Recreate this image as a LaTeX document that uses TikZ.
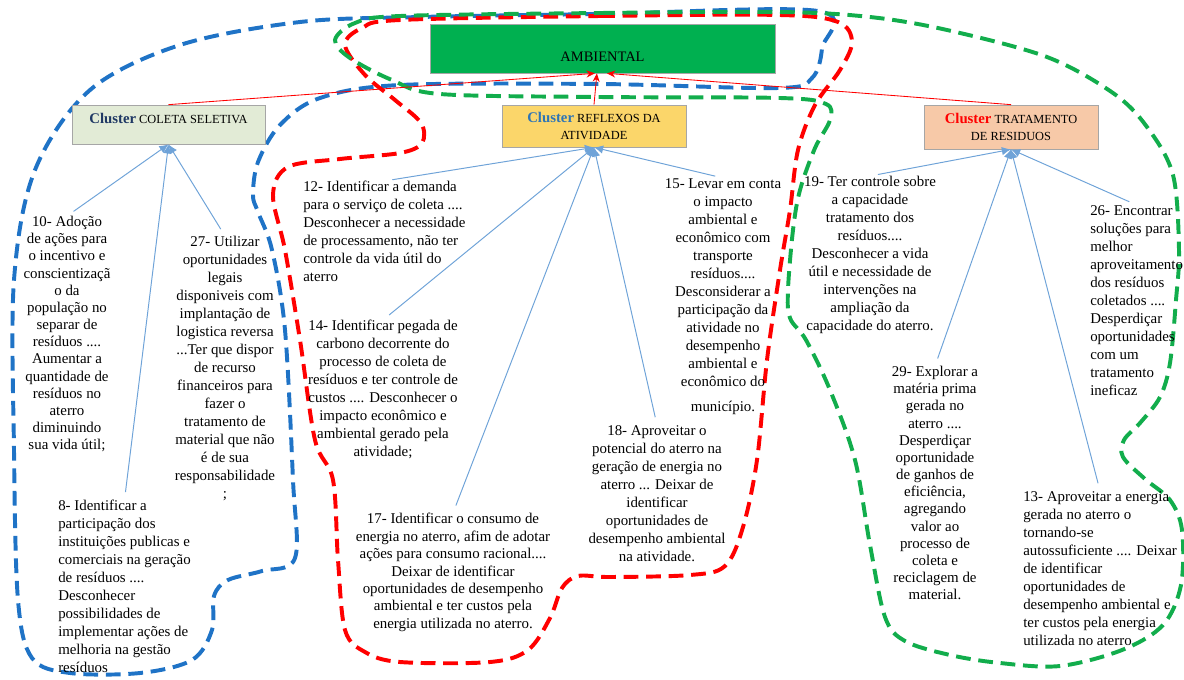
\documentclass[tikz,border=0pt]{standalone}
\usepackage{fontspec}
\setmainfont{Liberation Serif}
\usetikzlibrary{arrows.meta}

\definecolor{ambgreen}{HTML}{00B050}
\definecolor{hullblue}{HTML}{1F73C6}
\definecolor{hullred}{HTML}{FF0000}
\definecolor{hullgreen}{HTML}{12AD4C}
\definecolor{lineblue}{HTML}{6FA3D8}
\definecolor{boxgray}{HTML}{A6A6A6}
\definecolor{coletafill}{HTML}{E2EBD6}
\definecolor{reflexfill}{HTML}{FBD66A}
\definecolor{tratfill}{HTML}{F7C9A8}
\definecolor{navyword}{HTML}{1F3864}
\definecolor{blueword}{HTML}{2E75B6}

\newcommand{\clusterword}[1]{{\fontsize{10.5}{12}\selectfont\bfseries\color{#1}Cluster}}

\tikzset{
  hull/.style={line width=2.8pt, dash pattern=on 10.5pt off 5.5pt},
  clusterbox/.style={draw=boxgray, line width=0.5pt, align=center, inner sep=1pt,
    font=\fontsize{8.8}{12}\selectfont},
  item/.style={inner sep=0pt, font=\fontsize{10.6}{12.8}\selectfont},
  itemc/.style={item, align=center, anchor=north},
  iteml/.style={item, align=left, anchor=north west},
  tight/.style={font=\fontsize{10.6}{12.2}\selectfont},
  feed/.style={draw=lineblue, line width=0.7pt, shorten <=0.2cm,
    -{Latex[length=6.5pt,width=6pt]}},
  toamb/.style={draw=hullred, line width=0.6pt, -{Stealth[length=6pt,width=5pt]}},
}

\begin{document}
\begin{tikzpicture}[x=0.025cm,y=-0.025cm]
\useasboundingbox (0,0) rectangle (1184,679);

% grupos
\draw[hull, hullblue] plot[smooth cycle, tension=0.55] coordinates {
  (818,11) (600,14) (420,17) (300,22) (180,45) (90,90) (35,170) (14,280)
  (14,450) (18,600) (32,658) (70,673) (140,673) (192,660) (212,630)
  (214,596) (228,580) (262,571) (295,558) (293,480) (285,330) (272,250)
  (258,212) (253,195) (258,162) (280,125) (320,98) (400,85) (600,84)
  (778,88) (812,78) (822,48)};
\draw[hull, hullred] plot[smooth cycle, tension=0.55] coordinates {
  (400,20) (600,16) (780,15) (838,22) (852,42) (840,70) (815,105)
  (798,150) (790,210) (780,270) (767,360) (757,460) (743,527) (725,566)
  (690,575) (610,577) (578,576) (562,588) (550,618) (528,650) (490,662)
  (400,662) (365,652) (345,630) (338,560) (333,480) (315,440) (300,340)
  (285,250) (273,195) (288,167) (340,159) (400,153) (422,143) (421,123)
  (395,100) (365,75) (345,45) (362,28)};
\draw[hull, hullgreen] plot[smooth cycle, tension=0.55] coordinates {
  (400,16) (600,13) (780,12) (870,17) (947,30) (1047,57) (1113,93)
  (1147,127) (1173,175) (1179,250) (1176,300) (1170,363) (1160,397)
  (1140,423) (1124,440) (1123,457) (1145,479) (1170,500) (1182,530)
  (1181,585) (1163,625) (1122,650) (1060,666) (1000,663) (950,655)
  (905,641) (885,617) (870,545) (855,460) (830,390) (806,340) (790,318)
  (788,290) (793,230) (800,190) (815,148) (830,120) (826,104) (780,98)
  (600,97) (440,94) (392,80) (350,58) (335,40) (355,23)};

% caixas
\node[draw=boxgray, line width=0.5pt, fill=ambgreen, minimum width=8.625cm,
  minimum height=1.225cm, inner sep=0pt, text height=18.4pt, text depth=0pt,
  font=\fontsize{10.3}{12}\selectfont] (ambiental) at (602.5,48.5) {AMBIENTAL};
\node[clusterbox, fill=coletafill, minimum width=4.825cm, minimum height=0.975cm,
  text height=7pt, text depth=8.6pt] (coleta) at (168.5,124.5)
  {\clusterword{navyword} COLETA SELETIVA};
\node[clusterbox, fill=reflexfill, minimum width=4.6cm, minimum height=1.05cm]
  (reflexos) at (594,126) {\clusterword{blueword} REFLEXOS DA\\ATIVIDADE};
\node[clusterbox, fill=tratfill, minimum width=4.35cm, minimum height=1.1cm]
  (tratamento) at (1011,127) {\clusterword{hullred} TRATAMENTO\\DE RESIDUOS};

% itens
\node[itemc, tight] (n10) at (67,216) {10- Adoção\\de ações para\\o incentivo e\\conscientizaçã\\o da\\população no\\separar de\\resíduos ....\\Aumentar a\\quantidade de\\resíduos no\\aterro\\diminuindo\\sua vida útil;};
\node[itemc] (n27) at (225,236) {27- Utilizar\\oportunidades\\legais\\disponiveis com\\implantação de\\logistica reversa\\...Ter que dispor\\de recurso\\financeiros para\\fazer o\\tratamento de\\material que não\\é de sua\\responsabilidade\\;};
\node[iteml] (n8) at (58,500) {8- Identificar a\\participação dos\\instituições publicas e\\comerciais na geração\\de resíduos ....\\Desconhecer\\possibilidades de\\implementar ações de\\melhoria na gestão\\resíduos};
\node[iteml] (n12) at (303,181) {12- Identificar a demanda\\para o serviço de coleta ....\\Desconhecer a necessidade\\de processamento, não ter\\controle da vida útil do\\aterro};
\node[itemc] (n14) at (383,320) {14- Identificar pegada de\\carbono decorrente do\\processo de coleta de\\resíduos e ter controle de\\custos .... Desconhecer o\\impacto econômico e\\ambiental gerado pela\\atividade;};
\node[itemc, font=\fontsize{10.6}{12.4}\selectfont] (n17) at (453,513) {17- Identificar o consumo de\\energia no aterro, afim de adotar\\ações para consumo racional....\\Deixar de identificar\\oportunidades de desempenho\\ambiental e ter custos pela\\energia utilizada no aterro.};
\node[itemc] (n15) at (723,178) {15- Levar em conta\\o impacto\\ambiental e\\econômico com\\transporte\\resíduos....\\Desconsiderar a\\participação da\\atividade no\\desempenho\\ambiental e\\econômico do\\[5pt]município.};
\node[itemc] (n18) at (657,425) {18- Aproveitar o\\potencial do aterro na\\geração de energia no\\aterro ... Deixar de\\identificar\\oportunidades de\\desempenho ambiental\\na atividade.};
\node[itemc] (n19) at (870,176) {19- Ter controle sobre\\a capacidade\\tratamento dos\\resíduos....\\Desconhecer a vida\\útil e necessidade de\\intervenções na\\ampliação da\\capacidade do aterro.};
\node[itemc, tight] (n29) at (935,366) {29- Explorar a\\matéria prima\\gerada no\\aterro ....\\Desperdiçar\\oportunidade\\de ganhos de\\eficiência,\\agregando\\valor ao\\processo de\\coleta e\\reciclagem de\\material.};
\node[iteml] (n26) at (1090,205) {26- Encontrar\\soluções para\\melhor\\aproveitamento\\dos resíduos\\coletados ....\\Desperdiçar\\oportunidades\\com um\\tratamento\\ineficaz};
\node[iteml] (n13) at (1023,491) {13- Aproveitar a energia\\gerada no aterro o\\tornando-se\\autossuficiente .... Deixar\\de identificar\\oportunidades de\\desempenho ambiental e\\ter custos pela energia\\utilizada no aterro};

% ligacoes
\draw[toamb] (coleta.north) -- ([xshift=-0.19cm]ambiental.south);
\draw[toamb] (reflexos.north) -- ([xshift=-0.14cm]ambiental.south);
\draw[toamb] (tratamento.north) -- ([xshift=0.11cm]ambiental.south);

\foreach \n in {n10,n27,n8}
  \draw[feed] (\n.north) -- (coleta.south);
\foreach \n in {n12,n14,n17,n18,n15}
  \draw[feed] (\n.north) -- (reflexos.south);
\foreach \n in {n19,n29,n13,n26}
  \draw[feed] (\n.north) -- (tratamento.south);

\end{tikzpicture}
\end{document}
